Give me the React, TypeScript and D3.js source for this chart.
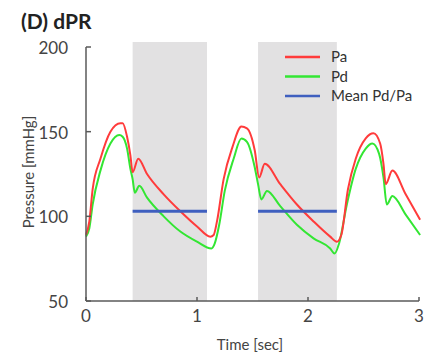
import * as d3 from 'd3';

// time [sec], pressure [mmHg]
const paT = [0, 0.03, 0.06, 0.13, 0.22, 0.31, 0.33, 0.37, 0.4, 0.42, 0.47, 0.55, 0.7, 0.85, 1.0, 1.12, 1.15, 1.18, 1.24, 1.32, 1.4, 1.45, 1.52, 1.56, 1.61, 1.75, 1.9, 2.05, 2.2, 2.26, 2.3, 2.36, 2.43, 2.52, 2.59, 2.65, 2.68, 2.7, 2.76, 2.88, 3.01];
const paV = [89, 97, 116, 134, 150, 155, 155, 147, 136, 126, 134, 125, 113, 103, 94, 88, 89, 97, 122, 141, 153, 152, 139, 123, 131, 119, 107, 97, 88, 85, 89, 116, 134, 146, 149, 143, 131, 119, 127, 113, 98];

const pdT = [0, 0.03, 0.06, 0.13, 0.22, 0.3, 0.33, 0.37, 0.4, 0.42, 0.44, 0.48, 0.55, 0.7, 0.85, 1.0, 1.13, 1.16, 1.2, 1.25, 1.33, 1.4, 1.45, 1.52, 1.55, 1.58, 1.63, 1.75, 1.9, 2.05, 2.2, 2.24, 2.28, 2.35, 2.43, 2.52, 2.58, 2.64, 2.68, 2.71, 2.76, 2.88, 3.01];
const pdV = [88, 93, 107, 127, 143, 148, 147, 140, 128, 122, 114, 118, 111, 100, 91, 85, 81, 84, 95, 115, 134, 146, 144, 129, 119, 110, 115, 106, 95, 87, 81, 78, 84, 107, 128, 140, 143, 137, 123, 107, 112, 101, 89];

// diastolic windows and mean Pd/Pa level
const windows = [[0.42, 1.09], [1.55, 2.26]];
const meanLevel = 103;

const xTicks = [0, 1, 2, 3];
const yTicks = [50, 100, 150, 200];

const legend = [
  { label: 'Pa', color: '#ff3b3b' },
  { label: 'Pd', color: '#33e633' },
  { label: 'Mean Pd/Pa', color: '#3f5fbf' },
];

const font = 'Lato, "Open Sans", sans-serif';
const axisColor = '#5a5a5a';

export default function App() {
  const x = d3.scaleLinear().domain([0, 3]).range([86, 419]);
  const y = d3.scaleLinear().domain([50, 200]).range([301, 47]);

  const line = d3.line<[number, number]>()
    .x(d => x(d[0]))
    .y(d => y(d[1]))
    .curve(d3.curveMonotoneX);

  const pa = paT.map((t, i) => [t, paV[i]] as [number, number]);
  const pd = pdT.map((t, i) => [t, pdV[i]] as [number, number]);

  return (
    <svg width={434} height={356} style={{ position: 'absolute', left: 0, top: 0, background: '#fff' }}>
      <text x={21} y={29} fontFamily={font} fontWeight="bold" fontSize={21} fill="#222">(D) dPR</text>

      {windows.map((w, i) => (
        <rect key={i} x={x(w[0])} y={42} width={x(w[1]) - x(w[0])} height={y(50) - 42} fill="#e2e1e2" />
      ))}

      <path d={line(pd) || ''} fill="none" stroke="#33e633" strokeWidth={2} />
      <path d={line(pa) || ''} fill="none" stroke="#ff3b3b" strokeWidth={2} />

      {windows.map((w, i) => (
        <line key={i} x1={x(w[0])} x2={x(w[1])} y1={y(meanLevel)} y2={y(meanLevel)} stroke="#3f5fbf" strokeWidth={3} />
      ))}

      {/* axes */}
      <line x1={x(0)} x2={x(0)} y1={y(200)} y2={y(50)} stroke={axisColor} strokeWidth={1.5} />
      <line x1={x(0)} x2={x(3)} y1={y(50)} y2={y(50)} stroke={axisColor} strokeWidth={1.5} />
      {yTicks.map(v => (
        <g key={v}>
          <line x1={x(0)} x2={x(0) + 5} y1={y(v)} y2={y(v)} stroke={axisColor} strokeWidth={1.5} />
          <text x={68} y={y(v) + 7} textAnchor="end" fontFamily={font} fontSize={17} fill="#444">{v}</text>
        </g>
      ))}
      {xTicks.map(v => (
        <g key={v}>
          <line x1={x(v)} x2={x(v)} y1={y(50)} y2={y(50) - 4} stroke={axisColor} strokeWidth={1.5} />
          <text x={x(v)} y={322} textAnchor="middle" fontFamily={font} fontSize={17} fill="#444">{v}</text>
        </g>
      ))}

      <text x={250} y={350} textAnchor="middle" fontFamily={font} fontSize={15} fill="#444">Time [sec]</text>
      <text transform="translate(34,172) rotate(-90)" textAnchor="middle" fontFamily={font} fontSize={15} fill="#444">Pressure [mmHg]</text>

      {legend.map((l, i) => (
        <g key={l.label}>
          <line x1={285} x2={320} y1={57 + i * 19.5} y2={57 + i * 19.5} stroke={l.color} strokeWidth={2.5} />
          <text x={331} y={62 + i * 19.5} fontFamily={font} fontSize={15} fill="#333">{l.label}</text>
        </g>
      ))}
    </svg>
  );
}
